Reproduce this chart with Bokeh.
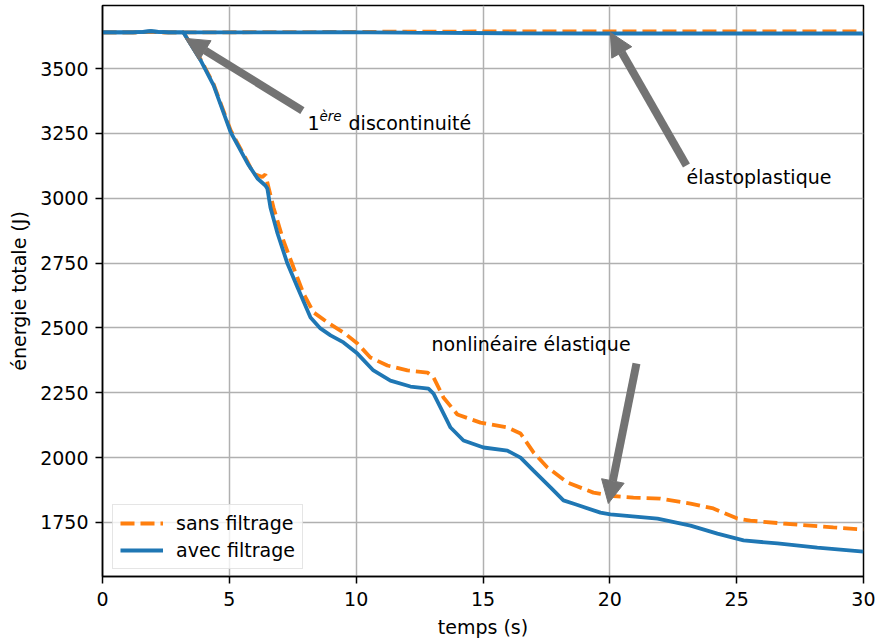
from bokeh.plotting import figure
from bokeh.models import Range1d, FixedTicker, Arrow, NormalHead, Legend, LegendItem
from bokeh.core.properties import value
from bokeh.embed import file_html
from bokeh.resources import INLINE

# ---------------- data ----------------
# elastoplastic case (top curves)
x_ep = [0, 1.2, 1.6, 1.9, 2.2, 2.6, 3.2, 6.0, 8.0, 9.0, 12.0, 16.0, 20.0, 25.0, 30.0]
ep_sans = [3639, 3639, 3640, 3642, 3640, 3639, 3639, 3640, 3640, 3641, 3642, 3643, 3643, 3643, 3643]
ep_avec = [3639, 3639, 3641, 3644, 3641, 3639, 3639, 3639, 3639, 3640, 3638, 3636, 3635, 3635, 3635]

# nonlinear elastic case - without filtering
x_nl_sans = [0, 1.2, 1.6, 1.9, 2.2, 2.6, 3.19, 3.5, 3.86, 4.38, 5.05, 5.72, 5.95, 6.30, 6.42, 6.50,
             6.74, 7.13, 7.53, 7.92, 8.32, 8.87, 9.55, 10.05, 10.56, 11.23, 12.02, 12.81, 13.05,
             13.44, 13.99, 14.90, 15.96, 16.48, 16.99, 17.54, 18.33, 19.35, 20.14, 20.93, 21.99,
             23.18, 24.08, 25.03, 25.54, 26.84, 28.81, 30.0]
nl_sans = [3639, 3639, 3640, 3642, 3640, 3639, 3639, 3592, 3537, 3440, 3262, 3140, 3095, 3082, 3092, 3060,
           2964, 2837, 2733, 2633, 2560, 2521, 2479, 2440, 2386, 2355, 2336, 2328, 2309,
           2232, 2166, 2135, 2116, 2093, 2020, 1962, 1904, 1865, 1852, 1846, 1842,
           1823, 1804, 1765, 1757, 1746, 1731, 1723]

# nonlinear elastic case - with filtering
x_nl_avec = [0, 1.2, 1.6, 1.9, 2.2, 2.6, 3.19, 3.5, 3.86, 4.38, 5.05, 5.72, 6.11, 6.42, 6.50, 6.62,
             6.90, 7.29, 7.69, 8.20, 8.59, 8.99, 9.50, 10.05, 10.68, 11.35, 12.14, 12.85, 13.05,
             13.52, 13.72, 14.23, 15.02, 15.96, 16.48, 16.99, 17.66, 18.17, 18.64, 19.63, 20.02,
             21.88, 23.18, 24.24, 25.27, 26.61, 28.18, 30.0]
nl_avec = [3639, 3639, 3641, 3644, 3641, 3639, 3639, 3590, 3533, 3435, 3255, 3134, 3076, 3049, 3037, 2964,
           2864, 2748, 2656, 2540, 2498, 2471, 2444, 2401, 2336, 2297, 2274, 2266, 2247,
           2155, 2116, 2066, 2039, 2027, 2000, 1950, 1885, 1835, 1820, 1788, 1781,
           1765, 1738, 1707, 1681, 1669, 1653, 1638]

x_ticks = [0, 5, 10, 15, 20, 25, 30]
y_ticks = [1750, 2000, 2250, 2500, 2750, 3000, 3250, 3500]

series_labels = ["sans filtrage", "avec filtrage"]
x_label = "temps (s)"
y_label = "énergie totale (J)"

# annotations: (text, x, y)
ann_elasto = ("élastoplastique", 23.02, 3080)
ann_nonlin = ("nonlinéaire élastique", 12.97, 2438)
# arrows: tail x, tail y, tip x, tip y
arrows = [
    (7.88, 3338, 3.27, 3616),
    (23.02, 3126, 20.02, 3639),
    (21.05, 2363, 19.94, 1823),
]

FONT = "DejaVu Sans"
FS = "19px"
BLUE = "#1f77b4"
ORANGE = "#ff7f0e"
GRAY = "#737373"

p = figure(frame_width=761, frame_height=571,
           min_border_left=102, min_border_right=12, min_border_top=5, min_border_bottom=62,
           x_range=Range1d(0, 30), y_range=Range1d(1541.7, 3742.9),
           output_backend="svg", toolbar_location=None)

p.background_fill_color = "white"
p.border_fill_color = "white"
p.outline_line_color = "black"
p.outline_line_width = 1.5

for ax in (p.xaxis, p.yaxis):
    ax.axis_line_color = "black"
    ax.axis_line_width = 1.5
    ax.major_tick_line_color = "black"
    ax.major_tick_line_width = 1.5
    ax.major_tick_out = 7
    ax.major_tick_in = 0
    ax.minor_tick_line_color = None
    ax.major_label_text_font = FONT
    ax.major_label_text_font_size = FS
    ax.major_label_text_color = "black"
    ax.axis_label_text_font = FONT
    ax.axis_label_text_font_size = FS
    ax.axis_label_text_font_style = "normal"
    ax.axis_label_text_color = "black"

p.xaxis.ticker = FixedTicker(ticks=x_ticks)
p.yaxis.ticker = FixedTicker(ticks=y_ticks)
p.xaxis.axis_label = x_label
p.yaxis.axis_label = y_label
p.xaxis.major_label_standoff = 8
p.xaxis.axis_label_standoff = 7
p.yaxis.major_label_standoff = 7
p.yaxis.axis_label_standoff = 7

p.xgrid.ticker = FixedTicker(ticks=x_ticks)
p.ygrid.ticker = FixedTicker(ticks=y_ticks)
for g in (p.xgrid, p.ygrid):
    g.grid_line_color = "#b0b0b0"
    g.grid_line_width = 1.5

LW = 3.8
DASH = "14 6"

p.line(x_ep, ep_sans, line_color=ORANGE, line_width=LW, line_dash=DASH)
r_sans = p.line(x_nl_sans, nl_sans, line_color=ORANGE, line_width=LW, line_dash=DASH)
p.line(x_ep, ep_avec, line_color=BLUE, line_width=LW)
r_avec = p.line(x_nl_avec, nl_avec, line_color=BLUE, line_width=LW)

# arrows
for (xs, ys, xe, ye) in arrows:
    p.add_layout(Arrow(end=NormalHead(size=23, fill_color=GRAY, line_color=GRAY, line_width=1),
                       x_start=xs, y_start=ys, x_end=xe, y_end=ye,
                       line_color=GRAY, line_width=8))

# annotation texts
p.text(x=[8.08], y=[3290], text=["1"], text_font=value(FONT), text_font_size=FS,
       text_baseline="alphabetic", text_align="left", text_color="black")
p.text(x=[8.55], y=[3318], text=["ère"], text_font=value(FONT), text_font_size="13.5px",
       text_font_style="italic", text_baseline="alphabetic", text_align="left", text_color="black")
p.text(x=[9.70], y=[3290], text=["discontinuité"], text_font=value(FONT), text_font_size=FS,
       text_baseline="alphabetic", text_align="left", text_color="black")
for (t, xx, yy) in (ann_elasto, ann_nonlin):
    p.text(x=[xx], y=[yy], text=[t], text_font=value(FONT), text_font_size=FS,
           text_baseline="alphabetic", text_align="left", text_color="black")

legend = Legend(items=[LegendItem(label=series_labels[0], renderers=[r_sans]),
                       LegendItem(label=series_labels[1], renderers=[r_avec])],
                location=(10, 7), margin=0, padding=7, spacing=5,
                glyph_width=43, glyph_height=22, label_height=22, label_standoff=13,
                label_text_font=FONT, label_text_font_size=FS, label_text_color="black",
                border_line_color="#cccccc", border_line_width=1.5,
                background_fill_color="white", background_fill_alpha=0.8)
p.add_layout(legend)

open("out.html", "w").write(file_html(p, INLINE))
